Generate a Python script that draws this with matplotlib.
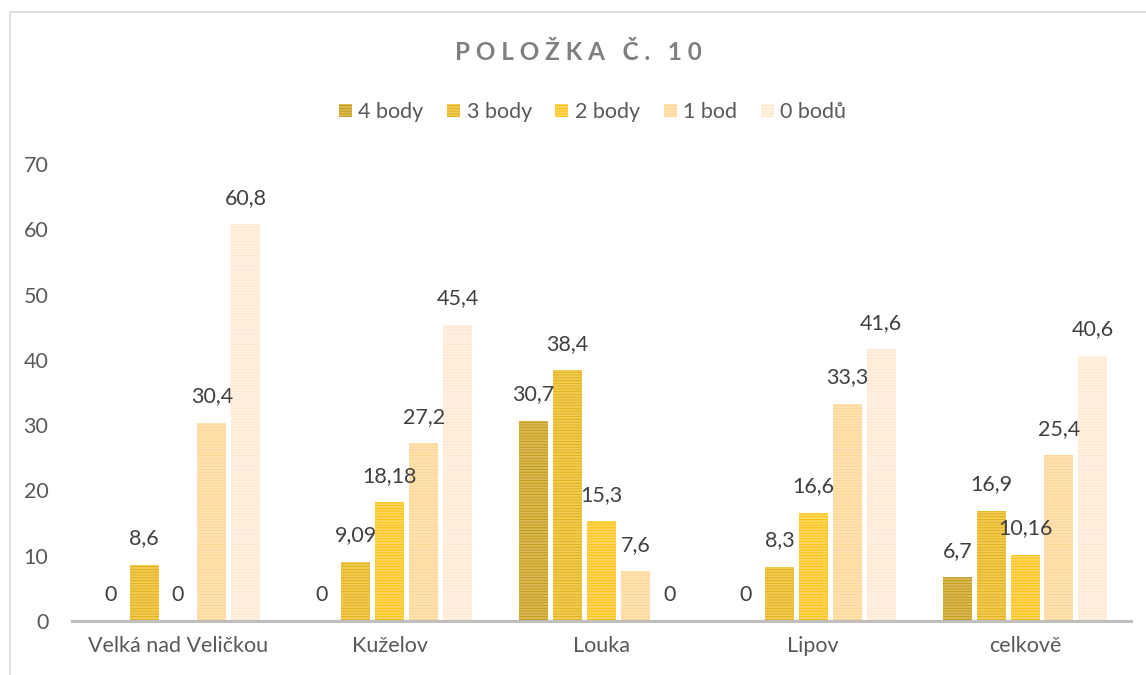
import matplotlib
matplotlib.use("Agg")
import matplotlib.pyplot as plt
from matplotlib.patches import Rectangle, Patch
import numpy as np

plt.rcParams['font.family'] = ['Lato', 'DejaVu Sans']
plt.rcParams['hatch.linewidth'] = 1.4

categories = ["Velká nad Veličkou", "Kuželov", "Louka", "Lipov", "celkově"]
series_names = ["4 body", "3 body", "2 body", "1 bod", "0 bodů"]
body4 = [0, 0, 30.7, 0, 6.7]
body3 = [8.6, 9.09, 38.4, 8.3, 16.9]
body2 = [0, 18.18, 15.3, 16.6, 10.16]
bod1 = [30.4, 27.2, 7.6, 33.3, 25.4]
bodu0 = [60.8, 45.4, 0, 41.6, 40.6]
# labels as printed in the chart (decimal comma)
labels4 = ["0", "0", "30,7", "0", "6,7"]
labels3 = ["8,6", "9,09", "38,4", "8,3", "16,9"]
labels2 = ["0", "18,18", "15,3", "16,6", "10,16"]
labels1 = ["30,4", "27,2", "7,6", "33,3", "25,4"]
labels0 = ["60,8", "45,4", "0", "41,6", "40,6"]

values = [body4, body3, body2, bod1, bodu0]
labels = [labels4, labels3, labels2, labels1, labels0]
faces = ["#BF960F", "#E0AC12", "#FFC000", "#FFD38C", "#FFE6CA"]
stripes = ["#D9BA55", "#F0CB55", "#FFD660", "#FFE2B4", "#FFF1E2"]

fig = plt.figure(figsize=(11.46, 6.75), dpi=100)
W, H = 1146, 675
ax = fig.add_axes([72 / W, (H - 621) / H, (1131 - 72) / W, (621 - 164) / H])

x = np.arange(len(categories))
step = 0.16
width = 0.137
for i, (vals, labs) in enumerate(zip(values, labels)):
    pos = x + (i - 2) * step
    ax.bar(pos, vals, width=width, color=faces[i], edgecolor=stripes[i],
           linewidth=0, hatch='------')
    for px, v, t in zip(pos, vals, labs):
        ax.annotate(t, (px, v), xytext=(0, 19), textcoords='offset points',
                    ha='center', va='center', fontsize=15.5, color='#404040')

ax.set_xlim(-0.5, len(categories) - 0.5)
ax.set_ylim(0, 70)
ax.set_yticks(range(0, 71, 10))
ax.set_xticks(x)
ax.set_xticklabels(categories)
for s in ['top', 'right', 'left']:
    ax.spines[s].set_visible(False)
ax.spines['bottom'].set_color('#BFBFBF')
ax.spines['bottom'].set_linewidth(2.2)
ax.tick_params(axis='both', length=0, labelsize=15.5, labelcolor='#595959')
ax.tick_params(axis='y', pad=17)
ax.tick_params(axis='x', pad=11)

fig.text(0.505, 1 - 52 / H, "P O L O Ž K A   Č .   1 0", ha='center', va='center',
         fontsize=17.5, fontweight='bold', color='#7F7F7F')

handles = [Patch(facecolor=faces[i], edgecolor=stripes[i], linewidth=0,
                 hatch='------', label=series_names[i]) for i in range(5)]
fig.legend(handles=handles, loc='center', bbox_to_anchor=(0.517, 1 - 112 / H),
           ncol=5, frameon=False, fontsize=15.5, labelcolor='#595959',
           handlelength=0.6, handleheight=0.6, handletextpad=0.3,
           columnspacing=1.1)

# chart frame
fig.patches.append(Rectangle((10 / W, -0.05), 1.1, 1 - 12 / H + 0.05,
                             transform=fig.transFigure, fill=False,
                             edgecolor='#D9D9D9', linewidth=1.2))

fig.savefig("out.png", dpi=100)
